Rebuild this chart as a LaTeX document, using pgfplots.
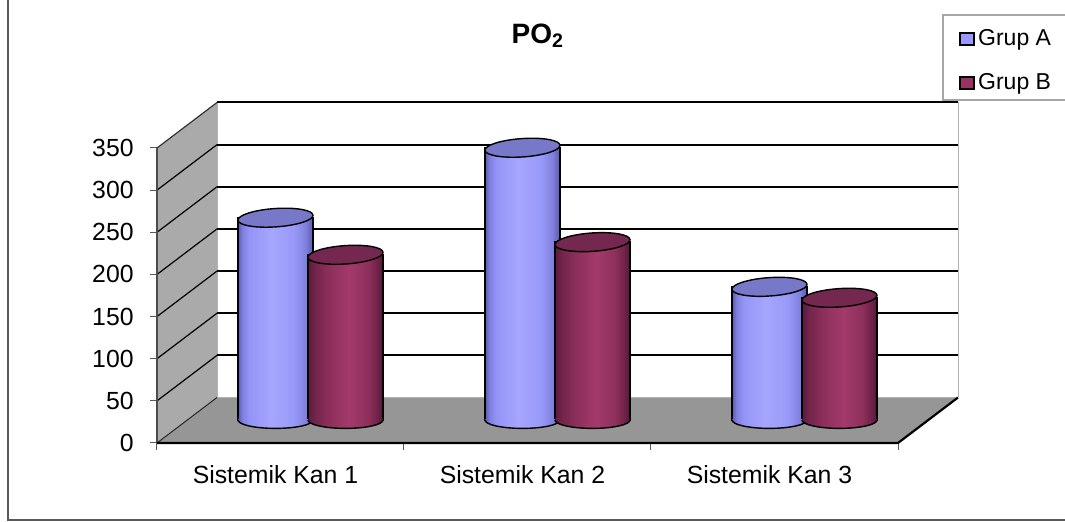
\documentclass[border=0pt]{standalone}
\usepackage{fontspec}
\setmainfont{Liberation Sans}
\usepackage{pgfplots}
\pgfplotsset{compat=1.18}

\definecolor{cA0}{HTML}{5A5AAA}
\definecolor{cA1}{HTML}{8080E0}
\definecolor{cA2}{HTML}{9494F6}
\definecolor{cA3}{HTML}{A6A6FF}
\definecolor{cA4}{HTML}{9898F8}
\definecolor{cA5}{HTML}{8080DE}
\definecolor{cA6}{HTML}{5A5AAA}
\definecolor{cB0}{HTML}{5A1A3C}
\definecolor{cB1}{HTML}{70244A}
\definecolor{cB2}{HTML}{8A2E59}
\definecolor{cB3}{HTML}{A33A6B}
\definecolor{cB4}{HTML}{8E305C}
\definecolor{cB5}{HTML}{6E2248}
\definecolor{cB6}{HTML}{521634}
\definecolor{topA}{HTML}{7878C9}
\definecolor{topB}{HTML}{74274F}
\definecolor{legA}{HTML}{9999FF}
\definecolor{legB}{HTML}{993366}
\definecolor{floorc}{HTML}{969696}
\definecolor{sidec}{HTML}{AAAAAA}

\pgfdeclarehorizontalshading{cylA}{100bp}{color(0bp)=(cA0); color(25bp)=(cA0); color(28bp)=(cA1); color(32.5bp)=(cA2); color(47.5bp)=(cA3); color(62.5bp)=(cA4); color(70bp)=(cA5); color(75bp)=(cA6); color(100bp)=(cA6)}
\pgfdeclarehorizontalshading{cylB}{100bp}{color(0bp)=(cB0); color(25bp)=(cB0); color(29bp)=(cB1); color(37.5bp)=(cB2); color(52.5bp)=(cB3); color(65bp)=(cB4); color(71.5bp)=(cB5); color(75bp)=(cB6); color(100bp)=(cB6)}

\pgfdeclareplotmark{cyltop}{%
  \pgfpathellipse{\pgfpointorigin}{\pgfqpoint{18.75pt}{1.2pt}}{\pgfqpoint{0pt}{4.6pt}}%
  \pgfusepathqfillstroke
}
\pgfdeclareplotmark{cylbotcylA}{%
  \pgfpathmoveto{\pgfqpoint{-18.75pt}{0.6pt}}%
  \pgfpathlineto{\pgfqpoint{-18.75pt}{0pt}}%
  \pgfpatharc{180}{360}{18.75pt and 4.2pt}%
  \pgfpathlineto{\pgfqpoint{18.75pt}{0.6pt}}%
  \pgfpathclose
  \pgfshadepath{cylA}{0}%
  \pgfusepath{discard}%
  \pgfpathmoveto{\pgfqpoint{-18.75pt}{0pt}}%
  \pgfpatharc{180}{360}{18.75pt and 4.2pt}%
  \pgfusepathqstroke
}
\pgfdeclareplotmark{cylbotcylB}{%
  \pgfpathmoveto{\pgfqpoint{-18.75pt}{0.6pt}}%
  \pgfpathlineto{\pgfqpoint{-18.75pt}{0pt}}%
  \pgfpatharc{180}{360}{18.75pt and 4.2pt}%
  \pgfpathlineto{\pgfqpoint{18.75pt}{0.6pt}}%
  \pgfpathclose
  \pgfshadepath{cylB}{0}%
  \pgfusepath{discard}%
  \pgfpathmoveto{\pgfqpoint{-18.75pt}{0pt}}%
  \pgfpatharc{180}{360}{18.75pt and 4.2pt}%
  \pgfusepathqstroke
}

% one cylinder: #1 = x position, #2 = value, #3 = shading, #4 = top colour
\newcommand\cylinder[4]{%
  \addplot[ybar, bar width=37.5pt, bar shift=0pt, draw=black, line width=0.7pt, shade, shading=#3]
    coordinates {(#1,#2)};
  \addplot[only marks, mark=cylbot#3, mark options={draw=black, line width=0.7pt}]
    coordinates {(#1,0)};
  \addplot[only marks, mark=cyltop, mark options={fill=#4, draw=black, line width=0.7pt}]
    coordinates {(#1,#2)};
}

\begin{document}
\begin{tikzpicture}
\path[use as bounding box] (-78.5pt,-39.5pt) rectangle (454pt,221.5pt);
% outer chart border
\draw[gray!70!black, line width=0.6pt] (-74.5pt,230pt) -- (-74.5pt,-38.5pt) -- (460pt,-38.5pt);

\begin{axis}[
  scale only axis, width=370.5pt, height=147.5pt,
  xmin=-0.5, xmax=2.5, ymin=0, ymax=350,
  clip=false,
  axis line style={draw=none},
  tick pos=left, tick align=outside,
  ytick={0,50,...,350},
  xtick={-0.5,0.5,1.5,2.5},
  xticklabels={,,,},
  extra x ticks={0,1,2},
  extra x tick labels={Sistemik Kan 1, Sistemik Kan 2, Sistemik Kan 3},
  extra x tick style={major tick length=0pt, tick style={draw=none}},
  major tick length=3.5pt,
  tick style={color=gray!70!black, line width=0.5pt},
  tick label style={font=\fontsize{12.4}{14}\selectfont},
  /pgf/number format/assume math mode=true,
  yticklabel style={anchor=east, inner sep=0pt, xshift=-8pt},
  xticklabel style={anchor=base, inner sep=0pt, yshift=-20.5pt, xshift=-2.5pt},
  title={\textbf{PO\textsubscript{2}}},
  every axis title shift=0pt,
  title style={at={(0.514,1.355)}, anchor=base, font=\fontsize{14}{16}\selectfont, inner sep=0pt},
  legend style={at={(1.0823,1.4068)}, anchor=north west, draw=none, fill=none,
    inner sep=0pt, row sep=11pt, column sep=1.5pt,
    font=\fontsize{11.5}{13}\selectfont,
    nodes={inner sep=0pt, text height=8.5pt, text depth=2.5pt}},
  legend cell align=left,
]
% side wall
\fill[sidec] (axis cs:-0.5,0) -- (axis cs:-0.5,350) -- (axis cs:-0.257,404) -- (axis cs:-0.257,54) -- cycle;
% back wall
\fill[white] (axis cs:-0.257,54) rectangle (axis cs:2.743,404);
% floor
\fill[floorc] (axis cs:-0.5,0) -- (axis cs:2.5,0) -- (axis cs:2.743,54) -- (axis cs:-0.257,54) -- cycle;
% wall edges
\draw[gray!60, line width=0.5pt] (axis cs:-0.257,54) -- (axis cs:-0.257,404);
\draw[gray!60, line width=0.5pt] (axis cs:2.743,54) -- (axis cs:2.743,404);
\draw[gray!60, line width=0.5pt] (axis cs:-0.257,54) -- (axis cs:2.743,54);
% back wall gridlines
\draw[black, line width=1pt]
  (axis cs:-0.257,104) -- (axis cs:2.743,104)
  (axis cs:-0.257,154) -- (axis cs:2.743,154)
  (axis cs:-0.257,204) -- (axis cs:2.743,204)
  (axis cs:-0.257,254) -- (axis cs:2.743,254)
  (axis cs:-0.257,304) -- (axis cs:2.743,304)
  (axis cs:-0.257,354) -- (axis cs:2.743,354)
  (axis cs:-0.257,404) -- (axis cs:2.743,404);
% side wall gridlines
\draw[black, line width=0.6pt]
  (axis cs:-0.5,50) -- (axis cs:-0.257,104)
  (axis cs:-0.5,100) -- (axis cs:-0.257,154)
  (axis cs:-0.5,150) -- (axis cs:-0.257,204)
  (axis cs:-0.5,200) -- (axis cs:-0.257,254)
  (axis cs:-0.5,250) -- (axis cs:-0.257,304)
  (axis cs:-0.5,300) -- (axis cs:-0.257,354);
\draw[gray!40!black, line width=0.6pt] (axis cs:-0.5,350) -- (axis cs:-0.257,404);
\draw[gray!30!black, line width=0.5pt] (axis cs:-0.5,0) -- (axis cs:-0.257,54);
% front edges
\draw[gray!60!black, line width=0.6pt] (axis cs:-0.5,0) -- (axis cs:-0.5,350);
\draw[black, line width=1.1pt] (axis cs:-0.5,0) -- (axis cs:2.5,0) -- (axis cs:2.743,54);

\addlegendimage{legend image code/.code={\draw[fill=legA, draw=black, line width=0.9pt] (0pt,-3pt) rectangle (7pt,3.2pt);}}
\addlegendentry{Grup A}
\addlegendimage{legend image code/.code={\draw[fill=legB, draw=black, line width=0.9pt] (0pt,-3pt) rectangle (7pt,3.2pt);}}
\addlegendentry{Grup B}
\end{axis}

\begin{axis}[
  at={(15pt,11.5pt)}, anchor=south west,
  scale only axis, width=370.5pt, height=147.5pt,
  xmin=-0.5, xmax=2.5, ymin=0, ymax=350,
  hide axis, clip=false,
]
% Grup A then Grup B for each category (Sistemik Kan 1, 2, 3)
\cylinder{-0.1417}{240}{cylA}{topA}
\cylinder{0.1417}{196}{cylB}{topB}
\cylinder{0.8583}{323}{cylA}{topA}
\cylinder{1.1417}{211}{cylB}{topB}
\cylinder{1.8583}{158}{cylA}{topA}
\cylinder{2.1417}{145}{cylB}{topB}
\end{axis}

\draw[gray!70, line width=0.6pt] (470pt,171.5pt) -- (393pt,171.5pt) -- (393pt,214pt) -- (470pt,214pt);
\end{tikzpicture}
\end{document}
